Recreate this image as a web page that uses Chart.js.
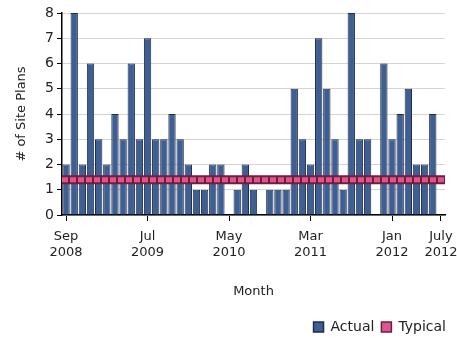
<!DOCTYPE html>
<html>
<head>
<meta charset="utf-8">
<script src="https://cdn.jsdelivr.net/npm/chart.js@4/dist/chart.umd.min.js"></script>
<style>
  html, body { margin: 0; padding: 0; background: #fff; }
  #wrap { width: 457px; height: 338px; }
</style>
</head>
<body>
<div id="wrap"><canvas id="chart" width="457" height="338"></canvas></div>
<script>
// Months Sep 2008 .. Jul 2012
const months = [
  'Sep 2008', 'Oct 2008', 'Nov 2008', 'Dec 2008',
  'Jan 2009', 'Feb 2009', 'Mar 2009', 'Apr 2009', 'May 2009', 'Jun 2009',
  'Jul 2009', 'Aug 2009', 'Sep 2009', 'Oct 2009', 'Nov 2009', 'Dec 2009',
  'Jan 2010', 'Feb 2010', 'Mar 2010', 'Apr 2010', 'May 2010', 'Jun 2010',
  'Jul 2010', 'Aug 2010', 'Sep 2010', 'Oct 2010', 'Nov 2010', 'Dec 2010',
  'Jan 2011', 'Feb 2011', 'Mar 2011', 'Apr 2011', 'May 2011', 'Jun 2011',
  'Jul 2011', 'Aug 2011', 'Sep 2011', 'Oct 2011', 'Nov 2011', 'Dec 2011',
  'Jan 2012', 'Feb 2012', 'Mar 2012', 'Apr 2012', 'May 2012', 'Jun 2012',
  'Jul 2012'
];

const actual = [
  2, 8, 2, 6,
  3, 2, 4, 3, 6, 3,
  7, 3, 3, 4, 3, 2,
  1, 1, 2, 2, 0, 1,
  2, 1, 0, 1, 1, 1,
  5, 3, 2, 7, 5, 3,
  1, 8, 3, 3, 0, 6,
  3, 4, 5, 2, 2, 4,
  0
];

const typical = [
  1.4, 1.4, 1.4, 1.4, 1.4, 1.4, 1.4, 1.4, 1.4, 1.4,
  1.4, 1.4, 1.4, 1.4, 1.4, 1.4, 1.4, 1.4, 1.4, 1.4,
  1.4, 1.4, 1.4, 1.4, 1.4, 1.4, 1.4, 1.4, 1.4, 1.4,
  1.4, 1.4, 1.4, 1.4, 1.4, 1.4, 1.4, 1.4, 1.4, 1.4,
  1.4, 1.4, 1.4, 1.4, 1.4, 1.4, 1.4
];

// which months get a label on the axis, and the text shown
const tickLabels = {
  'Sep 2008': ['Sep', '2008'],
  'Jul 2009': ['Jul', '2009'],
  'May 2010': ['May', '2010'],
  'Mar 2011': ['Mar', '2011'],
  'Jan 2012': ['Jan', '2012'],
  'Jul 2012': ['July', '2012']
};

const FONT = 'DejaVu Sans';
const BAR_FILL = '#3f5f93';
const BAR_EDGE = '#1e2d4c';
const PINK = '#e05590';
const PINK_EDGE = '#6e1f3c';

const ctx = document.getElementById('chart').getContext('2d');
new Chart(ctx, {
  type: 'bar',
  data: {
    labels: months,
    datasets: [
      {
        type: 'line',
        label: 'Typical',
        data: typical,
        xAxisID: 'x2',
        borderColor: PINK,
        backgroundColor: PINK,
        borderWidth: 5,
        borderDash: [6, 2],
        pointRadius: 0,
        order: 0
      },
      {
        type: 'line',
        label: 'edge',
        data: typical,
        xAxisID: 'x2',
        borderColor: PINK_EDGE,
        borderWidth: 9,
        pointRadius: 0,
        order: 1
      },
      {
        type: 'bar',
        label: 'Actual',
        data: actual,
        xAxisID: 'x',
        backgroundColor: BAR_FILL,
        borderColor: BAR_EDGE,
        borderWidth: 1,
        grouped: false,
        barPercentage: 0.9,
        categoryPercentage: 1,
        order: 2
      }
    ]
  },
  options: {
    responsive: false,
    animation: false,
    layout: { padding: { top: 13, right: 4, left: 10, bottom: -6 } },
    plugins: {
      tooltip: { enabled: false },
      legend: {
        position: 'bottom',
        align: 'end',
        reverse: true,
        labels: {
          font: { family: FONT, size: 14 },
          color: '#222',
          boxWidth: 10,
          boxHeight: 10,
          padding: 7,
          filter: (item) => item.text !== 'edge',
          generateLabels: (chart) => {
            const items = Chart.defaults.plugins.legend.labels.generateLabels(chart);
            items.forEach((it) => {
              it.lineDash = [];
              it.lineWidth = 1.5;
              if (it.text === 'Typical') { it.fillStyle = PINK; it.strokeStyle = PINK_EDGE; }
              if (it.text === 'Actual') { it.fillStyle = BAR_FILL; it.strokeStyle = BAR_EDGE; }
            });
            return items;
          }
        }
      }
    },
    scales: {
      x: {
        type: 'category',
        offset: true,
        afterFit: (scale) => {
          scale.height = 98;
          scale.paddingLeft = 0;
          scale.paddingRight = 12;
        },
        border: { color: '#000', width: 1.5 },
        grid: {
          offset: false,
          drawOnChartArea: false,
          tickLength: 6,
          color: (c) => (c.tick && tickLabels[months[c.index]]) ? '#000' : 'transparent'
        },
        ticks: {
          autoSkip: false,
          maxRotation: 0,
          font: { family: FONT, size: 13 },
          color: '#222',
          padding: 8,
          callback: (v, i) => tickLabels[months[i]] || ''
        },
        title: {
          display: true,
          text: 'Month',
          font: { family: FONT, size: 13 },
          color: '#222',
          padding: { top: 4, bottom: 14 }
        }
      },
      x2: {
        type: 'category',
        display: false,
        offset: false
      },
      y: {
        min: 0,
        max: 8,
        afterFit: (scale) => { scale.width = 52; },
        border: { color: '#000', width: 1.5 },
        grid: {
          color: '#d4d4d4',
          tickColor: '#000',
          tickLength: 5
        },
        ticks: {
          stepSize: 1,
          font: { family: FONT, size: 14 },
          color: '#222',
          padding: 3
        },
        title: {
          display: true,
          text: '# of Site Plans',
          font: { family: FONT, size: 13 },
          color: '#222',
          padding: { bottom: 2 }
        }
      }
    }
  }
});
</script>
</body>
</html>
